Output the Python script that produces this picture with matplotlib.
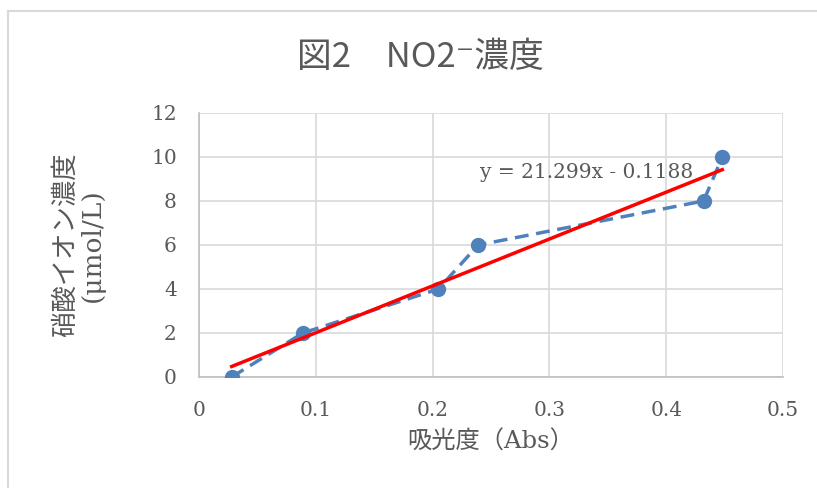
import numpy as np
import matplotlib.pyplot as plt
from matplotlib.lines import Line2D

plt.rcParams['font.family'] = ['DejaVu Serif', 'Noto Sans CJK JP', 'DejaVu Sans']

# 吸光度と硝酸イオン濃度
abs_vals = [0.028, 0.089, 0.205, 0.239, 0.432, 0.448]
conc_vals = [0, 2, 4, 6, 8, 10]

# 近似直線 y = 21.299x - 0.1188
slope = 21.299
intercept = -0.1188

x_ticks = [0, 0.1, 0.2, 0.3, 0.4, 0.5]
x_labels = ['0', '0.1', '0.2', '0.3', '0.4', '0.5']
y_ticks = [0, 2, 4, 6, 8, 10, 12]

gray = '#595959'
blue = '#4f81bd'

fig = plt.figure(figsize=(8.17, 4.88), dpi=100)
ax = fig.add_axes([0.2436, 0.2275, 0.7148, 0.541])

ax.plot(abs_vals, conc_vals, color=blue, linestyle='--', linewidth=2.5,
        marker='o', markersize=10, dashes=(4, 2.2), zorder=3)

xs = np.array([min(abs_vals), max(abs_vals)])
ax.plot(xs, slope * xs + intercept, color='#ff0000', linewidth=2.5, zorder=4)

ax.text(0.332, 9.3, 'y = 21.299x - 0.1188', fontsize=14.5, color=gray,
        ha='center', va='center', zorder=5)

ax.set_xlim(0, 0.5)
ax.set_ylim(0, 12)
ax.set_xticks(x_ticks)
ax.set_xticklabels(x_labels)
ax.set_yticks(y_ticks)
ax.grid(True, color='#d9d9d9', linewidth=1.2)
ax.set_axisbelow(True)
for side in ['top', 'right']:
    ax.spines[side].set_visible(False)
ax.spines['left'].set_color('#bfbfbf')
ax.spines['bottom'].set_color('#bfbfbf')
ax.spines['left'].set_linewidth(1.2)
ax.spines['bottom'].set_linewidth(1.2)
ax.tick_params(length=0, labelsize=14.5, labelcolor=gray)
ax.tick_params(axis='x', pad=17)
ax.tick_params(axis='y', pad=16)

ax.set_xlabel('吸光度（Abs）', fontsize=17.5, color=gray, labelpad=8)
ax.set_ylabel('硝酸イオン濃度\n(μmol/L)', fontsize=19, color=gray, labelpad=33,
              linespacing=1.1)

fig.text(0.514, 0.883, '図2　NO2⁻濃度', fontsize=25, color=gray,
         ha='center', va='center',
         family=['Noto Sans CJK JP', 'DejaVu Sans'])

# 外枠
fig.add_artist(Line2D([0.0098, 0.0098], [0, 0.978], transform=fig.transFigure,
                      color='#d9d9d9', linewidth=1.5))
fig.add_artist(Line2D([0.0098, 1.0], [0.978, 0.978], transform=fig.transFigure,
                      color='#d9d9d9', linewidth=1.5))

fig.savefig('out.png', dpi=100)
